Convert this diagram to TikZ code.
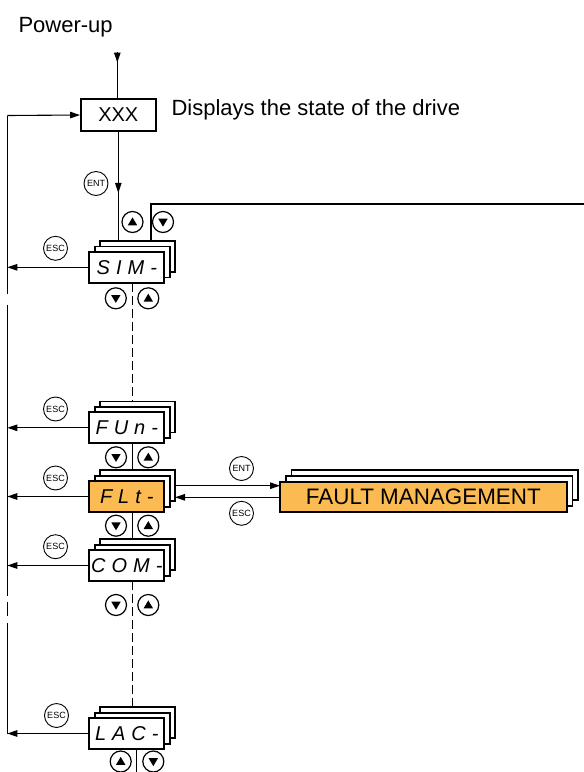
\documentclass[tikz,border=0pt]{standalone}
\usepackage{fontspec}
\setmainfont{Liberation Sans}
\usetikzlibrary{arrows.meta}
\definecolor{fltorange}{RGB}{251,186,82}
\newcommand\bigtxt{\fontsize{22}{26}\selectfont}
\newcommand\segtxt{\fontsize{20}{20}\selectfont\itshape\spaceskip=6pt}
\tikzset{
  conn/.style={line width=1.1pt, draw=black},
  tipped/.style={conn, -{Triangle[length=10pt,width=6.5pt]}},
  dashy/.style={dash pattern=on 9pt off 4pt},
  lay/.style={draw, line width=1.8pt, fill=white, minimum width=75pt, minimum height=31pt,
    inner sep=0pt, outer sep=0pt, anchor=north west},
  keybtn/.style={circle, draw, line width=0.9pt, minimum size=24pt, inner sep=0pt,
    font=\fontsize{9}{9}\selectfont},
  arrbtn/.style={circle, draw, line width=1.2pt, minimum size=21pt, inner sep=0pt},
  upbtn/.style={arrbtn, path picture={\fill ([shift={(-4.7,3.3)}]path picture bounding box.center)
      -- ([shift={(4.7,3.3)}]path picture bounding box.center)
      -- ([shift={(0,-4.6)}]path picture bounding box.center) -- cycle;}},
  dnbtn/.style={arrbtn, path picture={\fill ([shift={(-4.7,-3.3)}]path picture bounding box.center)
      -- ([shift={(4.7,-3.3)}]path picture bounding box.center)
      -- ([shift={(0,4.6)}]path picture bounding box.center) -- cycle;}},
}
\newcommand\menustack[5]{%
  \node[lay] (#1b) at (#2+10.7,#3-10.8) {};
  \node[lay] (#1m) at (#2+5.4,#3-5.4) {};
  \node[lay, fill=#5, font=\segtxt] (#1) at (#2,#3) {#4};
}
\begin{document}
\begin{tikzpicture}[x=1pt,y=-1pt]
\useasboundingbox (0,0) rectangle (584,772);
% top
\node[anchor=base west, font=\bigtxt] (pwr) at (15,32) {Power-up};
\coordinate (pu) at (117.3,52);
\node[draw, line width=1.8pt, minimum width=74.7pt, minimum height=32pt, inner sep=0pt,
  font=\fontsize{20}{20}\selectfont] (xxx) at (118.3,115) {XXX};
\node[anchor=base west, font=\bigtxt] (disp) at (168,115.5) {Displays the state of the drive};
\draw[conn] (pu) -- (pu |- xxx.north);
\draw[tipped] (pu) -- ++(0,10.5);

% menu stacks
\menustack{SIM}{89.3}{251.8}{S I M -}{white}
\menustack{FUn}{89.3}{412.3}{F U n -}{white}
\menustack{FLt}{89.3}{481}{F L t -}{fltorange}
\menustack{CON}{89.3}{550}{C O M -}{white}
\menustack{LAC}{89.3}{718}{L A C -}{white}

% fault management
\node[lay, minimum width=286.7pt, minimum height=30pt] (FMb) at (291.5,470.2) {};
\node[lay, minimum width=286.7pt, minimum height=30pt] (FMm) at (285.8,476) {};
\node[lay, minimum width=286.7pt, minimum height=30pt, fill=fltorange,
  font=\fontsize{22.4}{22.4}\selectfont] (FM) at (280,481.7) {FAULT MANAGEMENT};

% left return line
\coordinate (Ltop) at (7.3,115.5);
\coordinate (Lbot) at (Ltop |- LAC.west);
\draw[tipped] (Ltop) -- (xxx.west);
\draw[conn] (Ltop) -- (7.3,294) (7.3,305) -- (7.3,596) (7.3,602) -- (7.3,616) (7.3,623) -- (Lbot);

% XXX to SIM
\draw[conn] (xxx.south) -- (xxx.south |- SIMb.north);
\draw[tipped] (xxx.south) -- ++(0,61);
\node[keybtn] (ent0) at (96,183.5) {ENT};

% right loop
\coordinate (rc) at (151,204);
\coordinate (re) at (584,204);
\draw[conn] (rc |- SIMb.north) -- (rc) -- (re);

% central chain
\coordinate (cx) at (132.3,0);
\draw[conn, dashy] (SIM.south -| cx) -- (FUnb.north -| cx);
\draw[conn] (FUn.south -| cx) -- (FLtb.north -| cx);
\draw[conn] (FLt.south -| cx) -- (CONb.north -| cx);
\draw[conn, dashy] (CON.south -| cx) -- (LACb.north -| cx);
\coordinate (bx) at (136.7,772);
\draw[conn] (LAC.south -| bx) -- (bx);

% esc arrows to left
\foreach \m in {SIM,FUn,FLt,CON,LAC}{
  \draw[tipped] (\m.west) -- (\m.west -| Ltop);
}
\node[keybtn] (esc1) at (55.5,248.3) {ESC};
\node[keybtn] (esc2) at (55.5,409) {ESC};
\node[keybtn] (esc3) at (55.5,478) {ESC};
\node[keybtn] (esc4) at (55.5,546.7) {ESC};
\node[keybtn] (esc5) at (56.5,715.5) {ESC};

% up/down buttons
\node[upbtn] (u0) at (132.5,222) {};
\node[dnbtn] (d0) at (163,222) {};
\node[dnbtn] (d1) at (115.8,298.3) {};
\node[upbtn] (u1) at (148.3,298.3) {};
\node[dnbtn] (d2) at (116,457.3) {};
\node[upbtn] (u2) at (148.3,457.3) {};
\node[dnbtn] (d3) at (116,525.7) {};
\node[upbtn] (u3) at (148.3,525.7) {};
\node[dnbtn] (d4) at (116,605) {};
\node[upbtn] (u4) at (148.3,605) {};
\node[upbtn] (u5) at (120.7,761.5) {};
\node[dnbtn] (d5) at (153.3,761.5) {};

% FLt <-> FAULT MANAGEMENT
\coordinate (entY) at (0,485.7);
\coordinate (escY) at (0,497.3);
\draw[tipped] (FLtb.east |- entY) -- (FM.west |- entY);
\draw[tipped] (FM.west |- escY) -- (FLtb.east |- escY);
\node[keybtn] (entR) at (241.5,468.5) {ENT};
\node[keybtn] (escR) at (241.5,513.3) {ESC};
\end{tikzpicture}
\end{document}
